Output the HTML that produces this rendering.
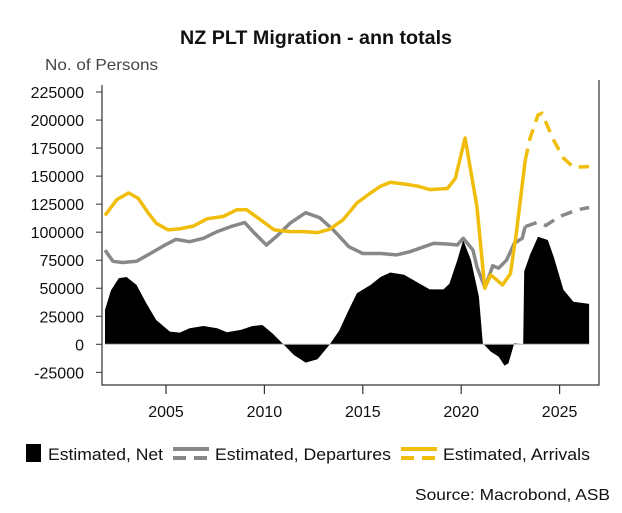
<!DOCTYPE html>
<html><head><meta charset="utf-8"><style>
html,body{margin:0;padding:0;background:#fff;}
svg{display:block;font-family:"Liberation Sans",sans-serif;}
</style></head><body>
<svg id="chart" width="622" height="513" viewBox="0 0 622 513">
<text x="316" y="44" text-anchor="middle" font-size="19" font-weight="bold" fill="#111" textLength="272" lengthAdjust="spacingAndGlyphs">NZ PLT Migration - ann totals</text>
<text x="45" y="70" font-size="16" fill="#444" textLength="113" lengthAdjust="spacingAndGlyphs">No. of Persons</text>
<g id="plot"></g>
<g id="legend">
<rect x="26" y="444" width="15" height="18" fill="#000"/>
<text x="48" y="460" font-size="17" fill="#111" textLength="115" lengthAdjust="spacingAndGlyphs">Estimated, Net</text>
<line x1="173" y1="449" x2="209" y2="449" stroke="#888" stroke-width="4"/>
<line x1="173" y1="458" x2="209" y2="458" stroke="#888" stroke-width="4" stroke-dasharray="13,8"/>
<text x="215" y="460" font-size="17" fill="#111" textLength="176" lengthAdjust="spacingAndGlyphs">Estimated, Departures</text>
<line x1="401" y1="449" x2="437" y2="449" stroke="#F0BE0A" stroke-width="4"/>
<line x1="401" y1="458" x2="437" y2="458" stroke="#F0BE0A" stroke-width="4" stroke-dasharray="13,8"/>
<text x="443" y="460" font-size="17" fill="#111" textLength="147" lengthAdjust="spacingAndGlyphs">Estimated, Arrivals</text>
</g>
<text x="610" y="500" text-anchor="end" font-size="16" fill="#111" textLength="195" lengthAdjust="spacingAndGlyphs">Source: Macrobond, ASB</text>
</svg>
<script>
const yTicks=[-25000,0,25000,50000,75000,100000,125000,150000,175000,200000,225000];
const xTicks=[2005,2010,2015,2020,2025];
const splitYear=2023.25;
const arrYears=[2001.9,2002.5,2003.1,2003.6,2004.1,2004.5,2005.1,2005.7,2006.4,2007.1,2007.9,2008.6,2009.1,2009.8,2010.5,2011.3,2012.0,2012.7,2013.3,2014.0,2014.7,2015.4,2015.9,2016.4,2017.1,2017.8,2018.4,2019.3,2019.7,2020.2,2020.8,2021.2,2021.5,2022.1,2022.5,2022.8,2023.25,2023.5,2023.9,2024.1,2024.7,2025.2,2025.7,2026.5];
const arrVals=[115,129,135,130,117,108,102,103,105.5,112,114,120,120,111,102,100.5,100.5,99.6,102.5,111,126,135,141,144.5,143,141,138,139,148,184,123,50,62,53,63,99,164,184,204.5,206,182,166,158,158.5];
const depYears=[2001.9,2002.3,2002.8,2003.5,2004.2,2004.9,2005.5,2006.2,2006.9,2007.6,2008.3,2009.0,2009.5,2010.1,2010.6,2011.3,2012.1,2012.8,2013.5,2014.3,2015.0,2015.9,2016.7,2017.4,2018.1,2018.6,2019.3,2019.8,2020.1,2020.6,2020.8,2021.2,2021.4,2021.6,2021.9,2022.3,2022.7,2023.1,2023.25,2023.9,2024.3,2025.0,2025.9,2026.5];
const depVals=[84,74,73,74,81,88,93.6,91.5,94.5,100.5,105,108.5,99,88.6,96,108,117.4,113,102,87,81,81,79.7,82.6,87,90,89.5,88.6,94.5,84,69,51,60,70,68,75,90,94.5,105,109,106,114,120,122];
const netYears=[2001.9,2002.2,2002.6,2003.0,2003.5,2004.0,2004.5,2005.2,2005.7,2006.2,2006.9,2007.6,2008.1,2008.8,2009.4,2009.9,2010.4,2011.0,2011.5,2012.1,2012.7,2013.3,2013.8,2014.2,2014.7,2015.4,2015.9,2016.4,2017.1,2017.7,2018.4,2019.1,2019.4,2019.8,2020.1,2020.5,2020.9,2021.1,2021.5,2021.9,2022.2,2022.4,2022.7,2023.15,2023.2,2023.5,2023.9,2024.4,2024.7,2025.2,2025.7,2026.5];
const netVals=[30.6,48,59,60,53,36.6,21.7,11.3,10.4,14.3,16.3,14.3,10.7,12.8,16.3,17.2,9.8,-0.6,-9.5,-16.3,-13.4,-0.6,12.2,27.6,45.5,53,60,64,62,56,49,49,54,75,93,75,42.5,1,-6.5,-11,-19,-17,1,0,65,80,96,93,78,48.5,38,36];

const L=102,R=599,T=85,B=385;
const X=y=>166+(y-2005)*19.68;
const Y=v=>344.3-v/25000*28.03;
const NS="http://www.w3.org/2000/svg";
const plot=document.getElementById('plot');
function mk(tag,attrs,parent){const e=document.createElementNS(NS,tag);for(const k in attrs)e.setAttribute(k,attrs[k]);(parent||plot).appendChild(e);return e;}

// net area
let d='M'+X(netYears[0])+','+Y(0);
netYears.forEach((yr,i)=>{d+=' L'+X(yr).toFixed(1)+','+Y(netVals[i]*1000).toFixed(1);});
d+=' L'+X(netYears[netYears.length-1])+','+Y(0)+' Z';
const net=mk('path',{d:d,fill:'#000'});


const zl=mk('line',{x1:X(netYears[0]),x2:X(netYears[netYears.length-1]),y1:Y(0),y2:Y(0),stroke:'#bbb','stroke-width':1});



function series(years,vals,color,name){
  let s=[],f=[];
  years.forEach((yr,i)=>{const p=X(yr).toFixed(1)+','+Y(vals[i]*1000).toFixed(1);if(yr<=splitYear)s.push(p);if(yr>=splitYear)f.push(p);});
  const a=mk('polyline',{points:s.join(' '),fill:'none',stroke:color,'stroke-width':3.5,'stroke-linejoin':'round'});
  
  
  const b=mk('polyline',{points:f.join(' '),fill:'none',stroke:color,'stroke-width':3.5,'stroke-dasharray':'12,8'});
  
  
}
series(depYears,depVals,'#888','departures');
series(arrYears,arrVals,'#F0BE0A','arrivals');

// axes
const ax=mk('path',{d:`M${L},${T} L${L},${B} L${R},${B} L${R},${T-5}`,fill:'none',stroke:'#333','stroke-width':1.2});


yTicks.forEach(v=>{
  const t=mk('line',{x1:L-6,x2:L,y1:Y(v),y2:Y(v),stroke:'#333','stroke-width':1});
  
  
  const lb=mk('text',{x:84,y:Y(v)+6,'text-anchor':'end','font-size':16,fill:'#111'});
  lb.textContent=v;
  
  
});
xTicks.forEach(v=>{
  const t=mk('line',{x1:X(v),x2:X(v),y1:B,y2:B+9,stroke:'#333','stroke-width':1.2});
  
  
  const lb=mk('text',{x:X(v),y:B+32,'text-anchor':'middle','font-size':16,fill:'#111'});
  lb.textContent=v;
  
  
});
</script>
</body></html>
